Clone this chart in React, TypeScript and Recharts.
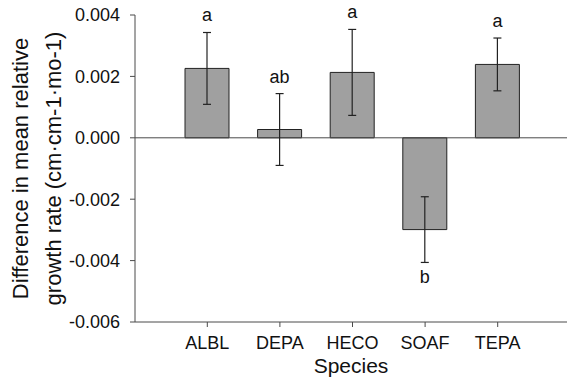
import { Bar, BarChart, ErrorBar, LabelList, ReferenceLine, XAxis, YAxis } from "recharts";

const species = ["ALBL", "DEPA", "HECO", "SOAF", "TEPA"];
const meanDiff = [0.00226, 0.00027, 0.00213, -0.00299, 0.00239];
const stdErr = [0.00117, 0.00117, 0.0014, 0.00107, 0.00086];
const letters = ["a", "ab", "a", "b", "a"];
const yTicks = [-0.006, -0.004, -0.002, 0, 0.002, 0.004];

const data = species.map((name, i) => ({
  name,
  value: meanDiff[i],
  err: stdErr[i],
  letter: letters[i],
}));

const FONT = "'Liberation Sans', Arial, sans-serif";
const AXIS = "#4a4a4a";

function YTitle({ viewBox }: any) {
  const cy = viewBox.y + viewBox.height / 2;
  return (
    <g fontFamily={FONT} fontSize={22} fill="#111">
      <text x={28} y={cy} textAnchor="middle" transform={`rotate(-90, 28, ${cy})`}>
        Difference in mean relative
      </text>
      <text x={61} y={cy} textAnchor="middle" transform={`rotate(-90, 61, ${cy})`}>
        growth rate (cm·cm-1·mo-1)
      </text>
    </g>
  );
}

function XTitle({ viewBox }: any) {
  return (
    <text
      x={viewBox.x + viewBox.width / 2}
      y={373}
      textAnchor="middle"
      fontFamily={FONT}
      fontSize={21}
      fill="#111"
    >
      Species
    </text>
  );
}

function LetterLabel(props: any) {
  const { x, y, width, height, index } = props;
  const v = meanDiff[index];
  const e = stdErr[index];
  const top = Math.min(y, y + height);
  const bottom = Math.max(y, y + height);
  const k = Math.abs(height) / Math.abs(v);
  const zeroY = v >= 0 ? bottom : top;
  const ty = v >= 0 ? zeroY - (v + e) * k - 17 : zeroY - (v - e) * k + 15;
  return (
    <text
      x={x + width / 2}
      y={ty}
      textAnchor="middle"
      dominantBaseline="central"
      fontFamily={FONT}
      fontSize={18}
      fill="#111"
    >
      {letters[index]}
    </text>
  );
}

export default function App() {
  return (
    <div style={{ position: "absolute", left: 0, top: 0, background: "#fff" }}>
      <BarChart
        width={567}
        height={381}
        data={data}
        margin={{ top: 15, right: 0, bottom: 29, left: 0 }}
      >
        <XAxis
          dataKey="name"
          height={30}
          padding={{ left: 36, right: 33 }}
          stroke={AXIS}
          tickSize={5}
          tickMargin={9}
          tick={{ fill: "#111", fontSize: 18, fontFamily: FONT }}
          label={<XTitle />}
        />
        <YAxis
          width={135}
          domain={[-0.006, 0.004]}
          ticks={yTicks}
          interval={0}
          allowDataOverflow
          stroke={AXIS}
          tickSize={5}
          tickMargin={10}
          tickFormatter={(v) => Number(v).toFixed(3)}
          tick={{ fill: "#111", fontSize: 18, fontFamily: FONT }}
          label={<YTitle />}
        />
        <ReferenceLine y={0} stroke={AXIS} strokeWidth={1} />
        <Bar
          dataKey="value"
          fill="#a0a0a0"
          stroke="#222"
          strokeWidth={1}
          barSize={44}
          isAnimationActive={false}
        >
          <ErrorBar dataKey="err" width={4} stroke="#222" strokeWidth={1.2} />
          <LabelList dataKey="letter" content={<LetterLabel />} />
        </Bar>
      </BarChart>
    </div>
  );
}
